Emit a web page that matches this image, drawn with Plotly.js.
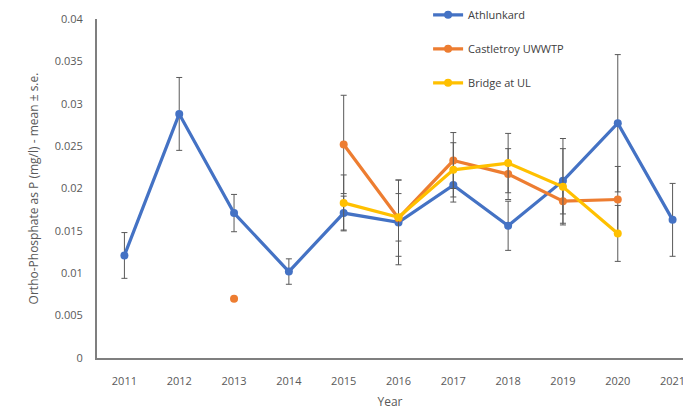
<!DOCTYPE html>
<html>
<head>
<meta charset="utf-8">
<script src="https://cdn.plot.ly/plotly-3.0.1.min.js"></script>
<style>
  html, body { margin: 0; padding: 0; background: #fff; }
  #chart { width: 683px; height: 414px; }
</style>
</head>
<body>
<div id="chart"></div>
<script>
// Ortho-phosphate (as P) by sampling site, annual mean with standard error
const years = [2011, 2012, 2013, 2014, 2015, 2016, 2017, 2018, 2019, 2020, 2021];

const athlunkardMean = [0.0121, 0.0288, 0.0171, 0.0102, 0.0171, 0.0160, 0.0204, 0.0156, 0.0209, 0.0277, 0.0163];
const athlunkardSE   = [0.0027, 0.0043, 0.0022, 0.0015, 0.0020, 0.0050, 0.0020, 0.0029, 0.0050, 0.0081, 0.0043];

const castletroyMean = [null, null, 0.0070, null, 0.0252, 0.0165, 0.0233, 0.0217, 0.0185, 0.0187, null];
const castletroySE   = [null, null, 0, null, 0.0058, 0.0045, 0.0033, 0.0030, 0.0015, 0.0039, null];

const bridgeMean = [null, null, null, null, 0.0183, 0.0166, 0.0222, 0.0230, 0.0202, 0.0147, null];
const bridgeSE   = [null, null, null, null, 0.0033, 0.0028, 0.0032, 0.0035, 0.0045, 0.0033, null];

const yTicks = [0, 0.005, 0.01, 0.015, 0.02, 0.025, 0.03, 0.035, 0.04];
const yTickText = ['0', '0.005', '0.01', '0.015', '0.02', '0.025', '0.03', '0.035', '0.04'];

const font = 'Open Sans, Noto Sans, sans-serif';

function series(name, y, se, color, group) {
  return {
    type: 'scatter',
    mode: 'lines+markers',
    name: name,
    legendgroup: group,
    x: years,
    y: y,
    connectgaps: false,
    line: { color: color, width: 3.2 },
    marker: { color: color, size: 8 },
    error_y: { type: 'data', array: se, visible: true, color: '#595959', thickness: 1, width: 3 }
  };
}

const data = [
  series('Athlunkard', athlunkardMean, athlunkardSE, '#4472C4', 'a'),
  series('Castletroy UWWTP', castletroyMean, castletroySE, '#ED7D31', 'b'),
  series('Bridge at UL', bridgeMean, bridgeSE, '#FFC000', 'c')
];

const layout = {
  width: 683,
  height: 414,
  margin: { l: 97, r: 0, t: 16, b: 56 },
  paper_bgcolor: '#ffffff',
  plot_bgcolor: '#ffffff',
  font: { family: font, size: 11, color: '#595959' },
  showlegend: true,
  legend: {
    x: 0.565, y: 1.055, xanchor: 'left', yanchor: 'top',
    bgcolor: 'rgba(0,0,0,0)',
    font: { family: font, size: 11, color: '#404040' },
    traceorder: 'grouped',
    tracegroupgap: 15
  },
  xaxis: {
    range: [2010.5, 2021.19],
    tickvals: years,
    ticktext: years.map(String),
    showgrid: false,
    zeroline: false,
    showline: true,
    linecolor: '#7f7f7f',
    linewidth: 2,
    ticks: '',
    ticklabelstandoff: 12,
    ticklabeloverflow: 'allow',
    tickfont: { size: 11, color: '#595959' },
    title: { text: 'Year', font: { size: 12, color: '#595959' }, standoff: 10 }
  },
  yaxis: {
    range: [0, 0.04],
    tickvals: yTicks,
    ticktext: yTickText,
    showgrid: false,
    zeroline: false,
    showline: true,
    linecolor: '#7f7f7f',
    linewidth: 2,
    ticks: '',
    ticklabelstandoff: 10,
    tickfont: { size: 11, color: '#595959' },
    title: { text: 'Ortho-Phosphate as P (mg/l) - mean ± s.e.', font: { size: 12, color: '#595959' }, standoff: 14 }
  }
};

Plotly.newPlot('chart', data, layout, { displayModeBar: false, staticPlot: true });
</script>
</body>
</html>
